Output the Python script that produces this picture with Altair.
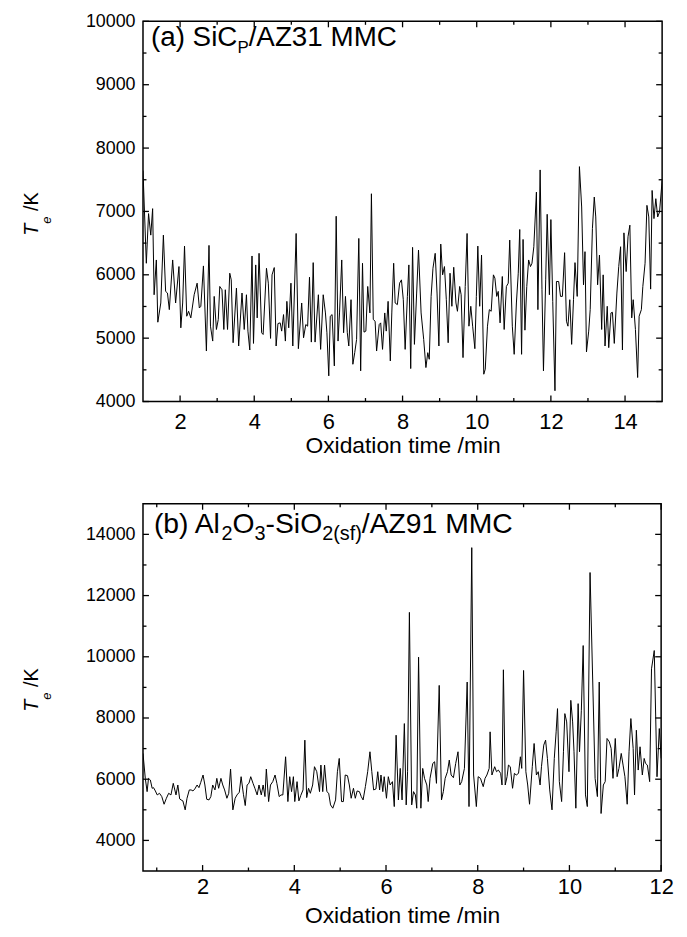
import altair as alt
import pandas as pd

# ---------------- data ----------------
time_a = [1.00,1.09,1.15,1.21,1.26,1.30,1.36,1.40,1.48,1.55,1.61,1.66,1.71,1.80,1.88,1.97,
          2.02,2.07,2.12,2.18,2.23,2.29,2.38,2.46,2.52,2.56,2.63,2.71,2.78,2.82,2.88,2.92,2.98,
          3.03,3.07,3.13,3.18,3.22,3.28,3.34,3.38,3.43,3.52,3.58,3.67,3.73,3.79,3.83,3.88,3.94,3.98,
          4.04,4.08,4.13,4.20,4.24,4.33,4.38,4.44,4.48,4.54,4.59,4.64,4.70,4.74,4.79,4.84,4.88,4.93,4.99,
          5.04,5.13,5.19,5.28,5.33,5.39,5.44,5.49,5.54,5.59,5.64,5.73,
          5.79,5.86,5.92,5.96,
          6.01,6.05,6.10,6.16,6.21,6.26,6.30,6.36,6.41,6.46,6.51,6.55,6.61,6.66,6.71,6.76,6.82,6.87,6.92,6.96,
          7.01,7.06,7.12,7.16,7.21,7.26,7.30,7.37,7.41,7.46,7.52,7.56,7.61,7.67,7.71,7.76,7.80,7.86,7.92,7.97,
          8.02,8.07,8.13,8.17,8.22,8.27,8.32,8.38,8.43,8.50,8.57,8.63,8.68,8.72,8.77,8.82,8.88,8.93,8.98,
          9.03,9.08,9.13,9.18,9.23,9.28,9.33,9.38,9.44,9.48,9.54,9.58,9.63,9.69,9.74,9.79,9.84,9.89,9.95,9.99,
          10.03,10.08,10.13,10.19,10.23,10.29,10.34,10.39,10.45,
          10.49,10.54,10.58,10.63,10.69,10.74,10.80,10.85,10.89,10.96,
          11.01,11.07,11.12,11.16,11.21,11.25,11.30,11.35,11.40,11.45,11.49,11.54,11.61,11.65,11.71,11.76,11.80,11.86,11.90,11.96,
          12.00,12.05,12.11,12.15,12.21,12.26,12.31,12.37,12.42,12.46,12.51,12.56,12.61,12.65,12.71,12.77,12.83,12.88,12.92,12.96,
          13.02,13.06,13.12,13.17,13.21,13.26,13.31,13.37,13.41,13.46,13.52,13.56,13.62,13.66,13.71,13.78,13.83,13.88,13.93,13.97,
          14.03,14.08,14.13,14.18,14.22,14.28,14.34,14.38,14.44,14.48,14.54,14.59,14.64,14.69,14.73,14.78,14.83,14.88,14.93,15.00]
temp_a = [7645,6182,6966,6626,7044,5685,6234,5252,5555,6626,5738,5712,5450,6234,5555,6130,
          5163,5555,6453,5346,5424,5320,5685,5868,5476,5503,6140,4797,6464,5189,4954,5659,5137,
          5294,5816,5764,5137,5764,5137,6025,5920,4928,5790,4876,5712,5137,5685,5111,4813,6297,4917,
          6156,5320,6339,5085,5058,6103,5868,4996,5999,6114,4876,5231,5241,5111,5372,4954,5581,5163,5868,
          4876,6652,4834,5555,5006,5215,5189,5962,4938,6192,4938,5685,
          4823,5685,5398,5085,
          4405,5346,5372,4562,6924,4954,5398,6234,5085,5659,5085,4876,5607,4588,4771,4980,6574,4484,6182,5095,
          5111,5816,5398,7279,5294,5267,4797,5215,5241,4823,5398,5111,5581,4640,5398,6182,5555,5529,5868,5920,
          5607,4823,5659,6156,4520,6433,4902,5712,6391,5398,4980,4536,4771,4667,5659,6103,6339,5712,4876,
          6485,5999,6130,5607,4928,6025,5503,6119,5555,5424,5816,5685,4693,5816,6652,5189,5503,5189,4834,5659,
          6453,5503,6312,4431,4510,5189,5450,5424,5999,
          5947,5659,5738,5241,5973,5137,5816,5868,6548,5189,
          4745,5555,6025,6715,4745,6558,5126,5816,6234,6130,6182,6443,7305,5450,7655,5764,4484,5920,6955,5685,
          6871,5581,4170,5894,5894,5659,5659,6349,5267,5189,5607,4902,5607,6192,5659,7707,7070,5842,6365,4782,
          5111,5450,6730,7227,6913,5842,6312,5137,5999,4876,5503,4850,5398,5408,4917,5712,6130,6443,4813,6662,
          6051,6600,6783,5320,5607,5137,4379,5346,5450,5816,6182,7096,6913,5774,7331,6887,7201,6913,6992,7488]

time_b = [0.70,0.75,0.79,0.82,0.86,0.90,0.93,0.97,1.01,1.06,1.11,1.16,1.21,1.26,1.31,1.36,1.42,1.46,1.50,1.53,
          1.57,1.62,1.66,1.71,1.75,1.79,1.83,1.88,1.92,1.96,2.01,2.05,2.09,2.14,2.18,2.22,2.27,2.31,2.35,2.40,
          2.44,2.48,2.53,2.57,2.61,2.66,2.71,2.75,2.80,2.84,2.89,2.93,2.97,3.01,3.05,3.10,3.14,3.19,3.23,3.28,
          3.32,3.36,3.39,3.44,3.48,3.53,3.58,3.62,3.67,3.71,3.75,3.81,3.86,3.90,3.94,3.98,4.01,4.06,4.10,4.14,
          4.19,4.23,4.27,4.31,4.35,4.40,4.44,4.49,4.55,
          4.58,4.62,4.66,4.71,4.75,4.79,4.84,4.90,4.94,4.98,
          5.03,5.07,5.11,5.16,5.20,5.24,5.29,5.33,5.37,5.42,5.46,5.50,5.55,5.60,5.65,5.69,5.73,5.78,5.82,5.86,5.89,5.93,5.96,
          6.01,6.05,6.09,6.14,6.18,6.22,6.27,6.31,6.35,6.40,6.44,6.47,6.51,6.56,6.60,6.64,6.67,6.71,6.76,6.80,6.84,6.89,6.92,6.96,
          7.02,7.06,7.10,7.16,7.21,7.25,7.29,7.34,7.38,7.42,7.47,7.52,7.57,7.61,7.65,7.71,7.77,7.81,7.87,7.91,7.97,
          8.01,8.06,8.12,8.16,8.20,8.25,8.27,8.31,
          8.37,8.41,8.45,8.50,8.53,8.56,8.60,8.64,8.67,8.71,8.76,8.80,8.84,8.89,8.93,8.96,9.00,9.05,9.09,9.13,
          9.19,9.23,9.28,9.32,9.36,9.39,9.44,9.48,9.52,9.57,9.62,9.67,9.71,9.74,9.78,9.83,9.87,9.90,9.94,9.99,
          10.03,10.07,10.10,10.14,10.19,10.22,10.26,10.30,10.35,10.39,10.45,10.56,10.61,10.65,10.69,10.74,10.78,10.82,10.87,10.91,
          10.95,11.00,11.04,11.08,11.13,11.17,11.21,11.26,11.30,11.34,11.39,11.42,11.46,11.50,11.54,11.59,11.63,11.66,11.70,11.75,
          11.79,11.85,11.91,11.96,12.00]
temp_b = [6842,6028,5594,6028,5974,5703,5724,5616,5486,5540,5432,5182,5377,5540,5486,5865,5486,5811,5356,5323,
          5291,4998,5377,5649,5649,5616,5681,5811,5724,5898,6137,5811,5345,5323,5432,5811,5649,6028,5703,6028,
          5811,5649,5377,5540,6332,4998,5377,5486,5573,6082,5508,5139,5811,5865,6082,5865,5703,5486,5811,5486,
          5811,5432,6332,5269,5811,5920,6137,5865,5432,5486,5486,6733,5269,6082,5594,6082,5269,5920,5291,5464,
          5649,7276,5399,5703,5540,5811,6408,6245,5594,
          6462,5594,6462,5594,5540,5160,5052,5323,6245,6679,
          5269,5269,6137,6115,5811,5377,5703,5377,5616,5594,5432,5323,5757,6245,6896,6245,5649,5681,6245,5649,6137,5594,6082,
          5377,6082,5811,5920,5106,7438,5323,6353,5323,7818,5160,6245,11451,5160,5594,5486,5052,9987,5052,6353,6028,5811,5269,6028,
          6516,6570,5865,9065,5323,5594,6028,6245,6625,6137,6050,6516,6896,5811,5920,6353,9174,5106,13566,6137,5106,
          6082,6028,5757,6028,6137,6353,7547,6137,
          6408,6245,6299,6191,5811,9575,5811,6082,6462,6408,5703,6191,6137,6191,6733,6353,9553,6245,5811,5182,
          6408,7167,6137,6245,5811,6408,7113,7276,6679,5649,4998,6679,7547,8306,5920,5269,6896,8143,7872,6245,
          8577,7872,6896,5052,8469,6896,8252,10367,5486,5106,12753,6028,5432,9174,4879,5811,5920,7330,7221,7004,
          6028,7330,6082,6353,6842,6462,6082,5182,6896,7981,7004,5486,7601,6299,7059,6137,6679,6516,6462,5920,
          9607,10204,6080,7655,6679]

x_domain_a = [1, 15]
y_domain_a = [4000, 10000]
x_major_a = [2, 4, 6, 8, 10, 12, 14]
x_minor_a = [3, 5, 7, 9, 11, 13]
y_major_a = [4000, 5000, 6000, 7000, 8000, 9000, 10000]
y_minor_a = [4500, 5500, 6500, 7500, 8500, 9500]

x_domain_b = [0.7, 12]
y_domain_b = [3000, 15000]
x_major_b = [2, 4, 6, 8, 10, 12]
x_minor_b = [1, 3, 5, 7, 9, 11]
y_major_b = [4000, 6000, 8000, 10000, 12000, 14000]
y_minor_b = [5000, 7000, 9000, 11000, 13000]

x_title = "Oxidation time /min"
# (text, is_subscript)
label_a = [("(a) SiC", False), ("P", True), ("/AZ31 MMC", False)]
label_b = [("(b) Al", False), ("2", True), ("O", False), ("3", True),
           ("-SiO", False), ("2(sf)", True), ("/AZ91 MMC", False)]
y_title = ["T", "e", "/K"]

FONT = "Liberation Sans"

# Arial advance widths (per 1000 em) used to chain text pieces
ADV = {"(": 333, ")": 333, " ": 278, "a": 556, "b": 556, "S": 667, "i": 222, "C": 722,
       "P": 667, "/": 278, "A": 667, "Z": 611, "3": 556, "1": 556, "9": 556, "M": 833,
       "l": 222, "2": 556, "O": 778, "-": 333, "s": 500, "f": 278}


def width(s, size):
    return sum(ADV.get(ch, 556) for ch in s) * size / 1000.0


def text(s, x, y, size, italic=False, angle=0):
    return alt.Chart(pd.DataFrame({"s": [s]})).mark_text(
        align="left", baseline="alphabetic", fontSize=size, font=FONT,
        fontStyle="italic" if italic else "normal", angle=angle, color="black"
    ).encode(x=alt.value(x), y=alt.value(y), text="s:N")


def panel_label(parts, x0, base, sub_base, size, sub_size):
    out = []
    x = x0
    for s, sub in parts:
        fs = sub_size if sub else size
        out.append(text(s, x, sub_base if sub else base, fs))
        x += width(s, fs)
    return out


def panel(times, temps, xdom, ydom, xmaj, xmin, ymaj, ymin, W, H, labels, lpad, tpad):
    xs = alt.Scale(domain=xdom, nice=False, zero=False)
    ys = alt.Scale(domain=ydom, nice=False, zero=False)
    ax = alt.Axis(
        values=xmaj, title=x_title, format="d", ticks=False, tickSize=0, domain=False, grid=False,
        labelFontSize=22, titleFontSize=23, labelFont=FONT, titleFont=FONT, titleFontWeight="normal",
        labelColor="black", titleColor="black", labelPadding=lpad, titlePadding=tpad,
        labelFlush=False, labelOverlap=False)
    ay = alt.Axis(
        values=ymaj, title=None, format="d", ticks=False, tickSize=0, domain=False, grid=False,
        labelFontSize=18, labelFont=FONT, labelColor="black", labelPadding=8,
        labelFlush=False, labelOverlap=False)
    df = pd.DataFrame(list(zip(times, temps)), columns=["t", "T"])
    line = alt.Chart(df).mark_line(color="black", strokeWidth=1, clip=True).encode(
        x=alt.X("t:Q", scale=xs, axis=ax),
        y=alt.Y("T:Q", scale=ys, axis=ay),
    )
    layers = [line]
    for vals, size in ((xmaj, 6), (xmin, 3.5)):
        base = alt.Chart(pd.DataFrame({"t": vals})).mark_rule(color="black", strokeWidth=1.3)
        xx = alt.X("t:Q", scale=xs, axis=ax)
        layers.append(base.encode(x=xx, y=alt.value(H), y2=alt.value(H - size)))
        layers.append(base.encode(x=xx, y=alt.value(0), y2=alt.value(size)))
    for vals, size in ((ymaj, 6), (ymin, 3.5)):
        base = alt.Chart(pd.DataFrame({"T": vals})).mark_rule(color="black", strokeWidth=1.3)
        yy = alt.Y("T:Q", scale=ys, axis=ay)
        layers.append(base.encode(y=yy, x=alt.value(0), x2=alt.value(size)))
        layers.append(base.encode(y=yy, x=alt.value(W), x2=alt.value(W - size)))
    layers += labels
    # y axis title: T_e /K (rotated)
    c = H / 2
    layers.append(text(y_title[0], -106, c + 24.5, 20, italic=True, angle=270))
    layers.append(text(y_title[1], -93, c + 12.5, 13, italic=True, angle=270))
    layers.append(text(y_title[2], -106, c - 0.5, 20, angle=270))
    return alt.layer(*layers).properties(width=W, height=H)


labels_a = panel_label(label_a, 8, 25, 31.5, 28, 17)
labels_b = panel_label(label_b, 11, 29, 37, 28.5, 20)

pa = panel(time_a, temp_a, x_domain_a, y_domain_a, x_major_a, x_minor_a, y_major_a, y_minor_a,
           523, 383, labels_a, 10, 2)
pb = panel(time_b, temp_b, x_domain_b, y_domain_b, x_major_b, x_minor_b, y_major_b, y_minor_b,
           522, 370, labels_b, 6, 7)

chart = alt.vconcat(pa, pb, spacing=44).properties(
    padding={"left": 13, "top": 0, "right": 5, "bottom": 2}, background="white"
).configure_view(stroke="black", strokeWidth=1.5)

chart.save("out.html", embed_options={"renderer": "svg", "actions": False})
